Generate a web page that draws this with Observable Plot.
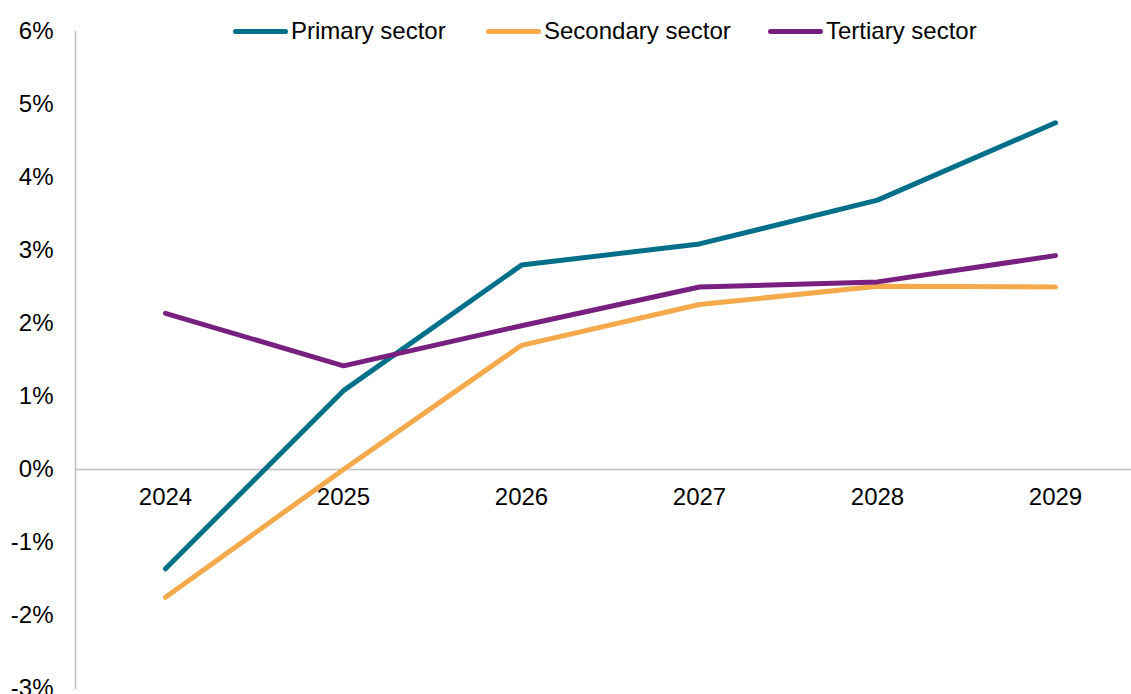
<!DOCTYPE html>
<html>
<head>
<meta charset="utf-8">
<script src="https://cdn.jsdelivr.net/npm/d3@7"></script>
<script src="https://cdn.jsdelivr.net/npm/@observablehq/plot@0.6"></script>
<style>
  html, body { margin: 0; padding: 0; background: #fff; }
  #wrap { position: relative; width: 1131px; height: 694px; overflow: hidden; font-family: "Liberation Sans", Arial, sans-serif; }
  #legend { position: absolute; top: 0; left: 0; width: 1131px; height: 62px; pointer-events: none; }
  .item { position: absolute; top: 17px; display: flex; align-items: center; font-size: 24px; line-height: 28px; color: #000; white-space: nowrap; }
  .sw { width: 55px; height: 5px; border-radius: 3px; margin-right: 3px; }
</style>
</head>
<body>
<div id="wrap"><div id="legend"></div></div>
<script>
const years = ["2024", "2025", "2026", "2027", "2028", "2029"];
const seriesNames = ["Primary sector", "Secondary sector", "Tertiary sector"];
const seriesColors = ["#00708a", "#f4a94b", "#77207f"];
const primary = [-1.36, 1.08, 2.80, 3.09, 3.69, 4.75];
const secondary = [-1.75, 0.00, 1.70, 2.26, 2.51, 2.50];
const tertiary = [2.14, 1.42, 1.97, 2.50, 2.57, 2.93];
const yTicks = [-3, -2, -1, 0, 1, 2, 3, 4, 5, 6];

const seriesValues = [primary, secondary, tertiary];
const data = [];
seriesNames.forEach((s, i) => years.forEach((yr, j) => data.push({series: s, year: yr, value: seriesValues[i][j]})));

const chart = Plot.plot({
  width: 1131,
  height: 694,
  marginTop: 31,
  marginBottom: 6,
  marginLeft: 75,
  marginRight: 0,
  style: {fontFamily: "'Liberation Sans', Arial, sans-serif", fontSize: "24px", color: "#000", background: "#fff"},
  x: {type: "point", domain: years, padding: 0.456, align: 0.54, axis: null},
  y: {domain: [-3, 6]},
  color: {domain: seriesNames, range: seriesColors},
  marks: [
    Plot.frame({anchor: "left", stroke: "#bfbfbf", strokeWidth: 1.5}),
    Plot.ruleY([0], {stroke: "#bfbfbf", strokeWidth: 1.5}),
    Plot.axisY({ticks: yTicks, tickFormat: d => d + "%", tickSize: 0, tickPadding: 22, label: null, fill: "#000"}),
    Plot.text(years, {x: d => d, y: () => 0, dy: 28, text: d => d, fill: "#000"}),
    Plot.line(data, {x: "year", y: "value", z: "series", stroke: "series", strokeWidth: 5, strokeLinecap: "round", strokeLinejoin: "round"})
  ]
});
document.getElementById("wrap").prepend(chart);

const legend = document.getElementById("legend");
const legendX = [233, 486, 768];
seriesNames.forEach((s, i) => {
  const it = document.createElement("div");
  it.className = "item";
  it.style.left = legendX[i] + "px";
  const sw = document.createElement("span");
  sw.className = "sw";
  sw.style.background = seriesColors[i];
  const t = document.createElement("span");
  t.textContent = s;
  it.appendChild(sw);
  it.appendChild(t);
  legend.appendChild(it);
});
</script>
</body>
</html>
